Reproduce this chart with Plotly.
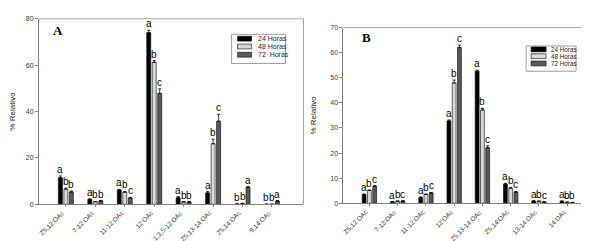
import plotly.graph_objects as go

# ---- data ----
cats_a = ["Z5,12:OAc", "7-12:OAc", "11-12:OAc", "12:OAc", "1,3,5-12:OAc",
          "Z5,13-14:OAc", "Z5,14:OAc", "9,14:OAc"]
a_24 = [11.4, 2.1, 6.1, 74.0, 2.8, 4.9, 0.1, 0.0]
a_48 = [6.5, 1.1, 5.2, 61.2, 1.0, 26.1, 0.3, 0.0]
a_72 = [5.3, 1.4, 2.7, 47.8, 1.0, 35.8, 7.3, 1.4]
a_24_err = [0.8, 0.2, 0.3, 1.0, 0.5, 0.5, 0.0, 0.0]
a_48_err = [0.5, 0.1, 0.3, 0.8, 0.1, 2.0, 0.1, 0.0]
a_72_err = [0.4, 0.2, 0.3, 2.0, 0.1, 3.0, 0.3, 0.2]
a_let_24 = ["a", "a", "a", "a", "a", "a", "b", "b"]
a_let_48 = ["b", "b", "b", "b", "b", "b", "b", "b"]
a_let_72 = ["b", "b", "c", "c", "b", "c", "a", "a"]

cats_b = ["Z5,12:OAc", "7-12:OAc", "11-12:OAc", "12:OAc", "Z5,13-14:OAc",
          "Z5,14:OAc", "13-14:OAc", "14:OAc"]
b_24 = [3.5, 0.6, 2.3, 32.8, 52.6, 7.6, 0.9, 0.8]
b_48 = [5.1, 0.8, 3.5, 47.9, 37.2, 6.0, 0.8, 0.4]
b_72 = [6.8, 0.9, 4.1, 62.0, 22.1, 4.4, 0.5, 0.3]
b_24_err = [0.2, 0.1, 0.2, 0.4, 0.4, 0.3, 0.1, 0.1]
b_48_err = [0.2, 0.1, 0.2, 1.2, 0.6, 0.3, 0.1, 0.1]
b_72_err = [0.2, 0.1, 0.2, 1.0, 0.8, 0.3, 0.1, 0.1]
b_let_24 = ["a", "a", "a", "a", "a", "a", "a", "a"]
b_let_48 = ["b", "b", "b", "b", "b", "b", "b", "b"]
b_let_72 = ["c", "c", "c", "c", "c", "c", "c", "b"]

series_names = ["24 Horas", "48 Horas", "72  Horas"]
series_names_b = ["24 Horas", "48 Horas", "72 Horas"]
colors = ["#000000", "#d9d9d9", "#595959"]

W, H = 589, 241
BARGAP = 0.44
SLOT = (1 - BARGAP) / 3
FONT = "Liberation Sans, Arial"

fig = go.Figure()


def px_x(p):
    return p / W


def px_y(p):
    return 1 - p / H


panels = [
    dict(cats=cats_a, vals=[a_24, a_48, a_72], errs=[a_24_err, a_48_err, a_72_err],
         lets=[a_let_24, a_let_48, a_let_72], names=series_names, xa="x", ya="y",
         axis_y=198,
         leg=dict(box=(223, 23, 277, 53), sw_x=(229, 243), rows=(27.5, 35.5, 44), tx=247,
                  fs=7)),
    dict(cats=cats_b, vals=[b_24, b_48, b_72], errs=[b_24_err, b_48_err, b_72_err],
         lets=[b_let_24, b_let_48, b_let_72], names=series_names_b, xa="x2", ya="y2",
         axis_y=197,
         leg=dict(box=(518, 35, 568, 61), sw_x=(523, 538), rows=(38.5, 45.5, 53), tx=541,
                  fs=6.3)),
]

annotations = []
shapes = []
for p in panels:
    idx = list(range(len(p["cats"])))
    for k in range(3):
        fig.add_trace(go.Bar(
            x=idx, y=p["vals"][k], name=p["names"][k], showlegend=False,
            marker=dict(color=colors[k], line=dict(color="#000000", width=0.6)),
            error_y=dict(type="data", array=p["errs"][k], visible=True,
                         color="#000000", thickness=0.8, width=1.5, symmetric=False,
                         arrayminus=[0] * len(idx)),
            xaxis=p["xa"], yaxis=p["ya"],
        ))
        for i in idx:
            annotations.append(dict(
                x=i + (k - 1) * SLOT, y=p["vals"][k][i] + p["errs"][k][i],
                xref=p["xa"], yref=p["ya"], text=p["lets"][k][i],
                showarrow=False, yanchor="bottom", xanchor="center", yshift=-1,
                font=dict(family=FONT, size=10, color="#000000"),
            ))
    # rotated category labels, anchored at their ticks
    for i, c in enumerate(p["cats"]):
        annotations.append(dict(
            x=i, y=px_y(p["axis_y"] + 2), xref=p["xa"], yref="paper", text=c,
            showarrow=False, textangle=-45, xanchor="right", yanchor="top", xshift=3,
            font=dict(family=FONT, size=6.5, color="#333333"),
        ))
    # hand-built compact legend
    lg = p["leg"]
    x0, y0, x1, y1 = lg["box"]
    shapes.append(dict(type="rect", xref="paper", yref="paper",
                       x0=px_x(x0), x1=px_x(x1), y0=px_y(y1), y1=px_y(y0),
                       line=dict(color="#9a9a9a", width=1), fillcolor="white"))
    for k in range(3):
        ry = lg["rows"][k]
        shapes.append(dict(type="rect", xref="paper", yref="paper",
                           x0=px_x(lg["sw_x"][0]), x1=px_x(lg["sw_x"][1]),
                           y0=px_y(ry + 2.5), y1=px_y(ry - 2.5),
                           line=dict(color="#000000", width=0.6), fillcolor=colors[k]))
        annotations.append(dict(x=px_x(lg["tx"]), y=px_y(ry), xref="paper", yref="paper",
                                text=p["names"][k], showarrow=False, xanchor="left",
                                yanchor="middle",
                                font=dict(family=FONT, size=lg["fs"], color="#222222")))

axis_common = dict(showgrid=False, zeroline=False, showline=True, linecolor="#7f7f7f",
                   linewidth=1, ticks="outside", ticklen=3, tickcolor="#7f7f7f",
                   tickfont=dict(family=FONT, size=7, color="#333333"))
xaxis_common = dict(showgrid=False, zeroline=False, showline=True, linecolor="#7f7f7f",
                    linewidth=1, ticks="outside", ticklen=2, tickcolor="#7f7f7f",
                    showticklabels=False)

fig.update_layout(
    width=W, height=H, margin=dict(l=0, r=0, t=0, b=0),
    paper_bgcolor="white", plot_bgcolor="white",
    barmode="group", bargap=BARGAP, bargroupgap=0.27, showlegend=False,
    xaxis=dict(domain=[px_x(30), px_x(295)], range=[-0.915, 8.07], anchor="y",
               tickvals=list(range(len(cats_a))), **xaxis_common),
    yaxis=dict(domain=[px_y(198), px_y(7)], range=[0, 80], anchor="x",
               tickvals=[0, 20, 40, 60, 80],
               title=dict(text="% Relativo", standoff=12,
                          font=dict(family=FONT, size=8, color="#222222")),
               **axis_common),
    xaxis2=dict(domain=[px_x(335), px_x(588)], range=[-0.92, 8.02], anchor="y2",
                tickvals=list(range(len(cats_b))), **xaxis_common),
    yaxis2=dict(domain=[px_y(197), px_y(16)], range=[0, 70], anchor="x2",
                tickvals=[0, 10, 20, 30, 40, 50, 60, 70],
                title=dict(text="% Relativo", standoff=12,
                           font=dict(family=FONT, size=8, color="#222222")),
                **axis_common),
)

annotations.append(dict(x=px_x(49), y=px_y(19), xref="paper", yref="paper", text="<b>A</b>",
                        showarrow=False, xanchor="center", yanchor="middle",
                        font=dict(family="Liberation Serif, Times New Roman", size=13, color="#000")))
annotations.append(dict(x=px_x(358), y=px_y(26), xref="paper", yref="paper", text="<b>B</b>",
                        showarrow=False, xanchor="center", yanchor="middle",
                        font=dict(family="Liberation Serif, Times New Roman", size=13, color="#000")))

# light frame on top/right of each plot area
for xr, yr in [("x domain", "y domain"), ("x2 domain", "y2 domain")]:
    shapes.append(dict(type="line", xref=xr, yref=yr, x0=0, x1=1, y0=1, y1=1,
                       line=dict(color="#a6a6a6", width=1)))
    shapes.append(dict(type="line", xref=xr, yref=yr, x0=1, x1=1, y0=0, y1=1,
                       line=dict(color="#a6a6a6", width=1)))

fig.update_layout(annotations=annotations, shapes=shapes)

fig.write_html("out.html")
